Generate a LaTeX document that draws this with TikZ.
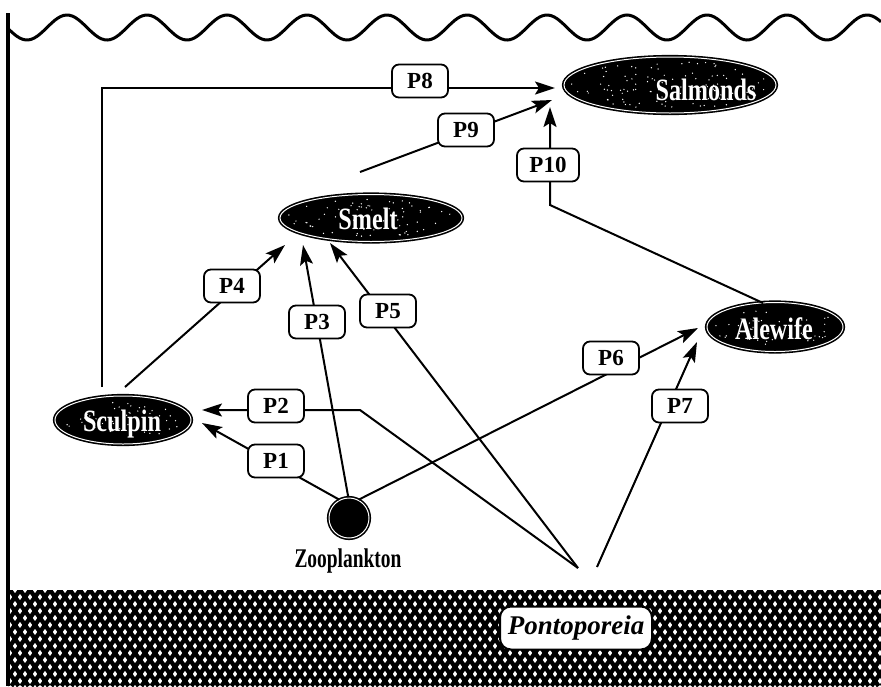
\documentclass[tikz,border=0pt]{standalone}
\usepackage{fontspec}
\setmainfont{Liberation Serif}
\newfontfamily\condserif[FakeStretch=0.78]{Liberation Serif}
\newfontfamily\narrowserif[FakeStretch=0.72]{Liberation Serif}
\usetikzlibrary{arrows.meta,shapes.geometric}
\begin{document}
\begin{tikzpicture}[x=1pt,y=-1pt,
  conn/.style={line width=2pt},
  arr/.style={conn,-{Stealth[length=20pt,width=13pt,inset=4pt]}},
  lbl/.style={draw,line width=1.8pt,rounded corners=7pt,fill=white,minimum width=56pt,minimum height=33pt,inner sep=2pt,font=\fontsize{23}{26}\selectfont\bfseries},
  fish/.style={ellipse,draw=black,fill=black,line width=1.6pt,double=white,double distance=1pt,inner sep=0pt},
  fishtext/.style={text=white,font=\condserif\fontsize{31}{34}\selectfont\bfseries},
  speck/.style={fill=white}]
\useasboundingbox (0,0) rectangle (881,686);
\fill[white] (0,0) rectangle (881,686);

% bottom sediment (hatched)
\begin{scope}
  \clip (8,590) rectangle (881,686);
  \fill[white] (8,590) rectangle (881,686);
  \foreach \k in {-8,...,96} {
    \draw[line width=4.3pt] (\k*10,590) -- ++(68.6,96);
    \draw[line width=4.3pt] (\k*10,590) -- ++(-68.6,96);
  }
\end{scope}

% water surface and left wall
\draw[line width=3pt] plot[domain=8:881,samples=300,smooth] (\x,{27.5+12.5*cos(4.5*(\x-107))});
\draw[line width=4pt] (8,13) -- (8,686);

% fish nodes
\node[fish,minimum width=212pt,minimum height=56pt] (salmon) at (670,85) {};
\node[fish,minimum width=182pt,minimum height=47pt] (smelt) at (371,218) {};
\node[fish,minimum width=136pt,minimum height=49pt] (alewife) at (775,327) {};
\node[fish,minimum width=136pt,minimum height=48pt] (sculpin) at (123,420) {};
\node[circle,draw=black,fill=black,line width=1.6pt,double=white,double distance=1pt,minimum size=40pt,inner sep=0pt] (zoo) at (349,518) {};

% speckles
\pgfmathsetseed{7}
\foreach \cx/\cy/\rx/\ry/\n in {670/85/100/24/110, 371/218/85/19/70, 775/327/62/20/50, 123/420/62/19/50} {
  \foreach \i in {1,...,\n} {
    \pgfmathsetmacro\ang{rnd*360}
    \pgfmathsetmacro\rr{sqrt(rnd)}
    \fill[speck] ({\cx+\rx*\rr*cos(\ang)},{\cy+\ry*\rr*sin(\ang)}) circle (0.7);
  }
}

\node[fishtext,anchor=base] (salmontxt) at (706,100) {Salmonds};
\node[fishtext,anchor=base] (smelttxt) at (368,229) {Smelt};
\node[fishtext,anchor=base] (alewifetxt) at (774,339) {Alewife};
\node[fishtext,anchor=base] (sculpintxt) at (122,431) {Sculpin};

\node[anchor=base,font=\narrowserif\fontsize{27}{30}\selectfont\bfseries] (zootxt) at (348,567) {Zooplankton};
\node[draw,line width=2pt,rounded corners=11pt,fill=white,minimum width=152pt,minimum height=43pt,inner sep=2pt,font=\fontsize{27}{30}\selectfont\bfseries\itshape] (ponto) at (576,628) {Pontoporeia};

% connector end points
\coordinate (pA) at (578,568);
\coordinate (pB) at (597,567);
\coordinate (t1) at (202,423);
\coordinate (t2) at (202,410);
\coordinate (b2) at (360,410);
\coordinate (t3) at (303,245);
\coordinate (s4) at (125,387);
\coordinate (t4) at (285,245);
\coordinate (t5) at (330,243);
\coordinate (t6) at (698,328);
\coordinate (t7) at (697,342);
\coordinate (s8) at (102,387);
\coordinate (b8) at (102,88);
\coordinate (t8) at (555,88);
\coordinate (s9) at (360,172);
\coordinate (t9) at (552,100);
\coordinate (s10) at (763,303);
\coordinate (b10) at (550,205);
\coordinate (t10) at (550,107);

% connectors
\draw[arr] (zoo.118) -- (t1);
\draw[arr] (pA) -- (b2) -- (t2);
\draw[arr] (zoo.92) -- (t3);
\draw[arr] (s4) -- (t4);
\draw[arr] (pA) -- (t5);
\draw[arr] (zoo.62) -- (t6);
\draw[arr] (pB) -- (t7);
\draw[arr] (s8) -- (b8) -- (t8);
\draw[arr] (s9) -- (t9);
\draw[arr] (s10) -- (b10) -- (t10);

% labels
\node[lbl] (P1) at (276,461) {P1};
\node[lbl] (P2) at (276,406) {P2};
\node[lbl] (P3) at (317,322) {P3};
\node[lbl] (P4) at (232,286) {P4};
\node[lbl] (P5) at (388,311) {P5};
\node[lbl] (P6) at (611,358) {P6};
\node[lbl] (P7) at (680,406) {P7};
\node[lbl] (P8) at (420,81) {P8};
\node[lbl] (P9) at (466,130) {P9};
\node[lbl,minimum width=62pt] (P10) at (548,165) {P10};
\end{tikzpicture}
\end{document}
